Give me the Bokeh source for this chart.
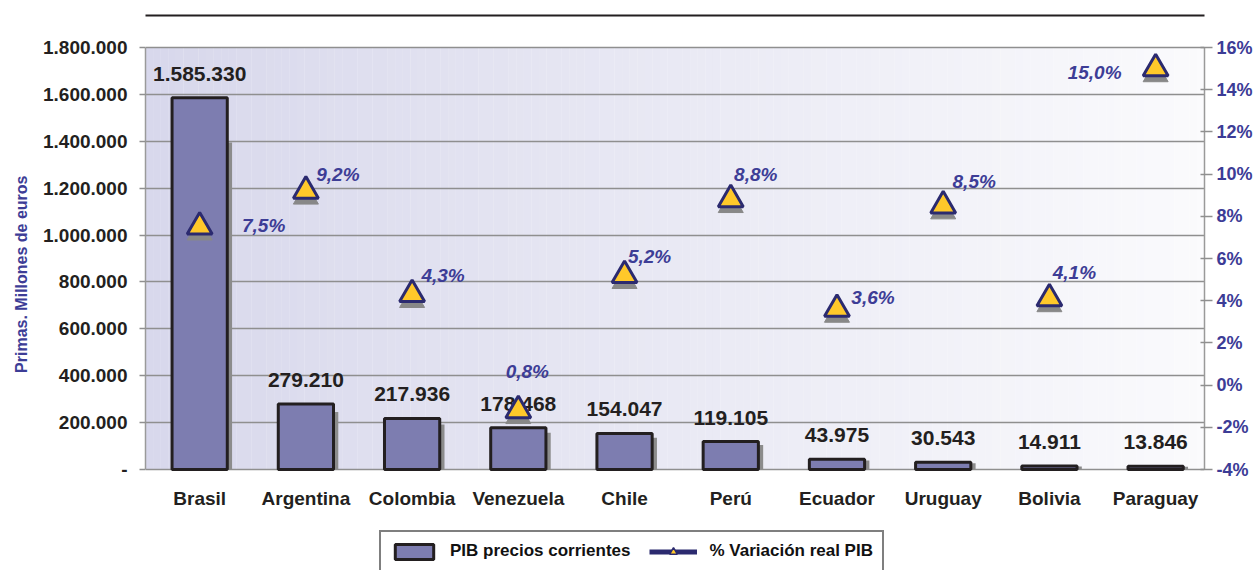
import numpy as np
from bokeh.plotting import figure
from bokeh.models import (ColumnDataSource, Range1d, LinearAxis, FixedTicker,
                          Legend, LegendItem, Title)
from bokeh.core.properties import value
from bokeh.embed import file_html
from bokeh.resources import INLINE

# ---------------- data ----------------
countries = ["Brasil", "Argentina", "Colombia", "Venezuela", "Chile",
             "Perú", "Ecuador", "Uruguay", "Bolivia", "Paraguay"]
pib = [1585330, 279210, 217936, 178468, 154047, 119105, 43975, 30543, 14911, 13846]
growth = [7.5, 9.2, 4.3, 0.8, 5.2, 8.8, 3.6, 8.5, 4.1, 15.0]
# marker heights as drawn in the source picture (Venezuela's marker sits lower than its label)
growth_marker = [7.5, 9.2, 4.3, -1.2, 5.2, 8.8, 3.6, 8.5, 4.1, 15.0]
left_ticks = [0, 200000, 400000, 600000, 800000, 1000000, 1200000, 1400000, 1600000, 1800000]
right_ticks = [-4, -2, 0, 2, 4, 6, 8, 10, 12, 14, 16]

# ---------------- layout helpers (not data) ----------------
lab_dx = [64, 32, 31, 9, 25, 25, 36, 31, 25, -61]
lab_dy = [-1, -16, -19, -39, -19, -25, -12, -24, -26, 4]

FONT = "Liberation Sans"
BAR_FILL = "#7d7db0"
NAVY = "#2b2a6f"
GOLD = "#ffc82a"
LBL_BLUE = "#3d3d96"

# pixel geometry of the plotting area (frame runs to the bottom of the canvas so
# that the category labels and legend can live inside it)
FRAME_TOP, PLOT_TOP, PLOT_BOTTOM, CANVAS_H = 45, 47, 469, 570
L_MIN, L_MAX = left_ticks[0], left_ticks[-1]
R_MIN, R_MAX = right_ticks[0], right_ticks[-1]
l_per_px = (L_MAX - L_MIN) / (PLOT_BOTTOM - PLOT_TOP)
r_per_px = (R_MAX - R_MIN) / (PLOT_BOTTOM - PLOT_TOP)
y_left = Range1d(L_MIN - (CANVAS_H - PLOT_BOTTOM) * l_per_px, L_MAX + (PLOT_TOP - FRAME_TOP) * l_per_px)
y_right = Range1d(R_MIN - (CANVAS_H - PLOT_BOTTOM) * r_per_px, R_MAX + (PLOT_TOP - FRAME_TOP) * r_per_px)

xs = list(range(len(countries)))

p = figure(width=1256, height=CANVAS_H, output_backend="svg", toolbar_location=None,
           x_range=Range1d(-0.51, 9.46), y_range=y_left, x_axis_location=None,
           min_border_left=143, min_border_right=52, min_border_top=FRAME_TOP,
           min_border_bottom=0)
p.extra_y_ranges = {"pct": y_right}
p.extra_x_ranges = {"rule": Range1d(0, 1)}
p.background_fill_color = "white"
p.border_fill_color = "white"
p.outline_line_color = None

# gradient background of the plot area (styling)
n_strips = 140
edges = np.linspace(-0.51, 9.46, n_strips + 1)
c0 = np.array([216, 216, 236])
c1 = np.array([251, 251, 253])
cols = []
for i in range(n_strips):
    t = i / (n_strips - 1)
    c = (c0 + (c1 - c0) * t).astype(int)
    cols.append("#%02x%02x%02x" % tuple(c))
p.quad(left=edges[:-1], right=edges[1:] + 0.002, bottom=L_MIN, top=L_MAX,
       fill_color=cols, line_color=None, level="image")

# grid
for g in p.xgrid:
    g.grid_line_color = None
p.ygrid.ticker = FixedTicker(ticks=left_ticks)
p.ygrid.grid_line_color = "#8f8f8f"
p.ygrid.grid_line_width = 1.5

# bar shadows + bars
shadow_src = ColumnDataSource(dict(x=[x + 0.045 for x in xs], top=[v * 0.88 for v in pib]))
p.vbar(x="x", top="top", bottom=0, width=0.52, source=shadow_src,
       fill_color="#8c8c8c", line_color=None)
bar_src = ColumnDataSource(dict(x=xs, top=pib))
bars = p.vbar(x="x", top="top", bottom=0, width=0.52, source=bar_src,
              fill_color=BAR_FILL, line_color="#231f20", line_width=3)

# bar value labels
val_src = ColumnDataSource(dict(x=xs, y=pib,
                                t=[f"{v:,}".replace(",", ".") for v in pib]))
p.text(x="x", y="y", text="t", source=val_src, y_offset=-24,
       text_align="center", text_baseline="middle",
       text_font=value(FONT), text_font_style="bold", text_font_size="21px",
       text_color="#231f20")

# category labels
cat_src = ColumnDataSource(dict(x=xs, y=[0] * len(xs), t=countries))
p.text(x="x", y="y", text="t", source=cat_src, y_offset=29,
       text_align="center", text_baseline="middle",
       text_font=value(FONT), text_font_style="bold", text_font_size="19px",
       text_color="#231f20")

# growth markers with shadows
tri_sh = ColumnDataSource(dict(x=xs, y=[m - 0.28 for m in growth_marker]))
p.scatter(x="x", y="y", source=tri_sh, marker="triangle", size=25,
          fill_color="#888888", line_color="#888888", line_width=1,
          y_range_name="pct")
tri_src = ColumnDataSource(dict(x=xs, y=growth_marker))
p.scatter(x="x", y="y", source=tri_src, marker="triangle", size=25,
          fill_color=GOLD, line_color=NAVY, line_width=3, y_range_name="pct")

g_src = ColumnDataSource(dict(x=xs, y=growth_marker,
                              t=[f"{g:.1f}%".replace(".", ",") for g in growth],
                              dx=lab_dx, dy=lab_dy))
p.text(x="x", y="y", text="t", source=g_src, x_offset="dx", y_offset="dy",
       text_align="center", text_baseline="middle", y_range_name="pct",
       text_font=value(FONT), text_font_style="bold italic", text_font_size="19px",
       text_color=LBL_BLUE)

# left axis
ya = p.yaxis[0]
ya.ticker = FixedTicker(ticks=left_ticks)
ya.bounds = (L_MIN, L_MAX)
ya.major_label_overrides = {t: ("-" if t == 0 else f"{t:,}".replace(",", ".")) for t in left_ticks}
ya.axis_line_color = "#9a9a9a"
ya.axis_line_width = 1.5
ya.major_tick_line_color = "#8f8f8f"
ya.major_tick_line_width = 1.5
ya.major_tick_out = 6
ya.major_tick_in = 0
ya.minor_tick_line_color = None
ya.major_label_standoff = 12
ya.major_label_text_font = FONT
ya.major_label_text_font_style = "bold"
ya.major_label_text_font_size = "19px"
ya.major_label_text_color = "#231f20"

# axis title as a side title so it can sit level with the plotted area
ytitle = Title(text="Primas. Millones de euros", align="right", offset=130,
               standoff=20, text_font=FONT, text_font_style="bold",
               text_font_size="16px", text_color=LBL_BLUE)
p.add_layout(ytitle, "left")

# right axis
ra = LinearAxis(y_range_name="pct", ticker=FixedTicker(ticks=right_ticks),
                bounds=(R_MIN, R_MAX))
ra.major_label_overrides = {t: f"{t}%" for t in right_ticks}
ra.axis_line_color = "#9a9a9a"
ra.axis_line_width = 1.5
ra.major_tick_line_color = "#8f8f8f"
ra.major_tick_line_width = 1.5
ra.major_tick_out = 8
ra.major_tick_in = 4
ra.minor_tick_line_color = None
ra.major_label_standoff = 4
ra.major_label_text_font = FONT
ra.major_label_text_font_style = "bold"
ra.major_label_text_font_size = "18px"
ra.major_label_text_color = "#3c3c96"
p.add_layout(ra, "right")

# legend proxies (drawn outside the visible x range, used only for the key)
d_line = p.line(x=[-5, -4], y=[0, 0], line_color=NAVY, line_width=5, y_range_name="pct")
d_tri = p.scatter(x=[-4.5], y=[0], marker="triangle", size=12, fill_color=GOLD,
                  line_color=NAVY, line_width=1.5, y_range_name="pct")
legend = Legend(items=[LegendItem(label="PIB precios corrientes", renderers=[bars]),
                       LegendItem(label="% Variación real PIB", renderers=[d_line, d_tri])],
                orientation="horizontal", location=(234, -2),
                border_line_color="black", border_line_width=2,
                background_fill_color="white", background_fill_alpha=1,
                label_text_font=FONT, label_text_font_style="bold",
                label_text_font_size="17px", label_text_color="#111111",
                glyph_width=48, glyph_height=19, padding=9, spacing=19,
                label_standoff=12, margin=0)
p.add_layout(legend)

# top rule: an empty spacer axis, then an axis that only draws its line
spacer = LinearAxis(ticker=FixedTicker(ticks=[]), axis_line_color=None,
                    major_tick_line_color=None, minor_tick_line_color=None,
                    major_tick_out=0, major_tick_in=0,
                    axis_label="\u00a0", axis_label_text_font_size="16px",
                    axis_label_standoff=10)
p.add_layout(spacer, "above")
rule = LinearAxis(x_range_name="rule", ticker=FixedTicker(ticks=[]),
                  axis_line_color="#231f20", axis_line_width=2,
                  major_tick_line_color=None, minor_tick_line_color=None,
                  major_tick_out=0, major_tick_in=0)
p.add_layout(rule, "above")

open("out.html", "w").write(file_html(p, INLINE))
